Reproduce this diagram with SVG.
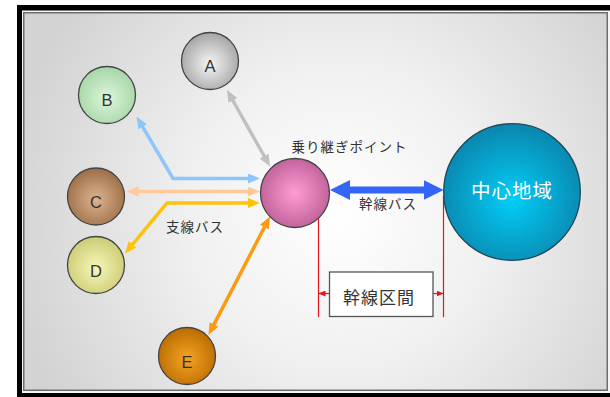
<svg xmlns="http://www.w3.org/2000/svg" width="610" height="397" viewBox="0 0 610 397">
<style>
.node{stroke:#444;stroke-width:1.3}
.lt{font-family:"Liberation Sans",Arial,sans-serif;font-size:16.5px;fill:#333;text-anchor:middle}
.jp{font-family:"Noto Sans CJK JP","Noto Sans",sans-serif;font-size:13.5px;fill:#333;letter-spacing:1px}
.con{fill:none;stroke-width:3.5;stroke-linejoin:miter}
</style>
<defs>
<radialGradient id="bg" gradientUnits="userSpaceOnUse" cx="340" cy="215" r="340">
<stop offset="0" stop-color="#ffffff"/><stop offset="0.45" stop-color="#f0f0f0"/><stop offset="1" stop-color="#d2d2d2"/>
</radialGradient>
<radialGradient id="gA" cx="50%" cy="55%" r="55%"><stop offset="0" stop-color="#f6f6f6"/><stop offset="1" stop-color="#a4a4a4"/></radialGradient>
<radialGradient id="gB" cx="50%" cy="55%" r="55%"><stop offset="0" stop-color="#dcf6dc"/><stop offset="1" stop-color="#a6d6a6"/></radialGradient>
<radialGradient id="gC" cx="50%" cy="55%" r="55%"><stop offset="0" stop-color="#ddb48e"/><stop offset="1" stop-color="#9c6e48"/></radialGradient>
<radialGradient id="gD" cx="50%" cy="55%" r="55%"><stop offset="0" stop-color="#f7f7b6"/><stop offset="1" stop-color="#cccb76"/></radialGradient>
<radialGradient id="gE" cx="50%" cy="55%" r="55%"><stop offset="0" stop-color="#f4a424"/><stop offset="1" stop-color="#bb6c00"/></radialGradient>
<radialGradient id="gH" cx="50%" cy="50%" r="55%"><stop offset="0" stop-color="#ff9dd2"/><stop offset="1" stop-color="#bd5e98"/></radialGradient>
<radialGradient id="gZ" cx="50%" cy="55%" r="55%"><stop offset="0" stop-color="#02cef7"/><stop offset="1" stop-color="#0a86ae"/></radialGradient>
<marker id="mA" viewBox="0 0 12 10" refX="4" refY="5" markerWidth="12" markerHeight="10" markerUnits="userSpaceOnUse" orient="auto-start-reverse"><path d="M0,0 L12,5 L0,10 z" fill="#c0c0c0"/></marker>
<marker id="mB" viewBox="0 0 12 10" refX="4" refY="5" markerWidth="12" markerHeight="10" markerUnits="userSpaceOnUse" orient="auto-start-reverse"><path d="M0,0 L12,5 L0,10 z" fill="#8ec6fb"/></marker>
<marker id="mC" viewBox="0 0 12 10" refX="4" refY="5" markerWidth="12" markerHeight="10" markerUnits="userSpaceOnUse" orient="auto-start-reverse"><path d="M0,0 L12,5 L0,10 z" fill="#ffc99c"/></marker>
<marker id="mD" viewBox="0 0 12 10" refX="4" refY="5" markerWidth="12" markerHeight="10" markerUnits="userSpaceOnUse" orient="auto-start-reverse"><path d="M0,0 L12,5 L0,10 z" fill="#fcc30a"/></marker>
<marker id="mE" viewBox="0 0 12 10" refX="4" refY="5" markerWidth="12" markerHeight="10" markerUnits="userSpaceOnUse" orient="auto-start-reverse"><path d="M0,0 L12,5 L0,10 z" fill="#ff9a10"/></marker>
<marker id="mT" viewBox="0 0 20 20" refX="6" refY="10" markerWidth="20" markerHeight="20" markerUnits="userSpaceOnUse" orient="auto-start-reverse"><path d="M0,0 L20,10 L0,20 z" fill="#3366f6"/></marker>
<marker id="mR" viewBox="0 0 7 6" refX="7" refY="3" markerWidth="7" markerHeight="6" markerUnits="userSpaceOnUse" orient="auto"><path d="M0,0 L7,3 L0,6 z" fill="#e3141c"/></marker>
</defs>

<g id="frame">
<rect x="0" y="0" width="610" height="397" fill="#ffffff"/>
<rect x="17" y="5" width="600" height="400" fill="#000000"/>
<rect x="22" y="10.5" width="590" height="382.5" fill="#f4f4f4"/>
<rect x="23.75" y="12.75" width="583.5" height="377.5" fill="url(#bg)" stroke="#6e6e6e" stroke-width="1.5"/>
</g>

<g id="connectors">
<line class="con" x1="230.9" y1="97" x2="266.1" y2="159.5" stroke="#c0c0c0" stroke-width="3" marker-start="url(#mA)" marker-end="url(#mA)"/>
<polyline class="con" points="140.6,123.4 173,178.5 252,178.5" stroke="#8ec6fb" marker-start="url(#mB)" marker-end="url(#mB)"/>
<line class="con" x1="134.5" y1="191.5" x2="252" y2="191.5" stroke="#ffc99c" marker-start="url(#mC)" marker-end="url(#mC)"/>
<polyline class="con" points="252,203 167,203 130.1,247.3" stroke="#fcc30a" marker-start="url(#mD)" marker-end="url(#mD)"/>
<line class="con" x1="266.3" y1="223.6" x2="212.2" y2="327.9" stroke="#ff9a10" marker-start="url(#mE)" marker-end="url(#mE)"/>
<line x1="344" y1="190" x2="429.5" y2="190" stroke="#3366f6" stroke-width="7" marker-start="url(#mT)" marker-end="url(#mT)"/>
<line x1="318.5" y1="217" x2="318.5" y2="317" stroke="#e3141c" stroke-width="1.2"/>
<line x1="443.5" y1="196" x2="443.5" y2="317" stroke="#e3141c" stroke-width="1.2"/>
<line x1="329" y1="293.5" x2="318.5" y2="293.5" stroke="#e3141c" stroke-width="1.2" marker-end="url(#mR)"/>
<line x1="433" y1="293.5" x2="443.5" y2="293.5" stroke="#e3141c" stroke-width="1.2" marker-end="url(#mR)"/>
</g>

<g id="node-A"><circle class="node" cx="210" cy="61" r="28.5" fill="url(#gA)"/><text class="lt" x="210" y="72">A</text></g>
<g id="node-B"><circle class="node" cx="107" cy="95" r="28.5" fill="url(#gB)"/><text class="lt" x="107" y="106">B</text></g>
<g id="node-C"><circle class="node" cx="96" cy="196.5" r="28.5" fill="url(#gC)"/><text class="lt" x="96" y="207.5">C</text></g>
<g id="node-D"><circle class="node" cx="96" cy="265" r="28.5" fill="url(#gD)"/><text class="lt" x="96" y="276.5">D</text></g>
<g id="node-E"><circle class="node" cx="187" cy="356" r="28.5" fill="url(#gE)"/><text class="lt" x="187" y="367.5">E</text></g>
<g id="node-hub"><circle class="node" cx="295" cy="193" r="34.5" fill="url(#gH)"/><text class="jp" x="291.5" y="151.5">乗り継ぎポイント</text></g>
<g id="node-center"><circle cx="512" cy="192" r="68.3" fill="url(#gZ)" stroke="#1d4856" stroke-width="1.3"/><text x="471" y="197.5" font-family="'Noto Sans CJK JP','Noto Sans',sans-serif" font-size="19.5" fill="#ffffff" letter-spacing="1">中心地域</text></g>
<g id="label-trunk-bus"><text class="jp" x="359" y="209">幹線バス</text></g>
<g id="label-branch-bus"><text class="jp" x="166" y="232">支線バス</text></g>
<g id="node-section"><rect x="329.5" y="272" width="103.5" height="44.5" fill="#ffffff" stroke="#555" stroke-width="1.3"/><text x="343" y="304" font-family="'Noto Sans CJK JP','Noto Sans',sans-serif" font-size="17" fill="#333" letter-spacing="1">幹線区間</text></g>
</svg>
